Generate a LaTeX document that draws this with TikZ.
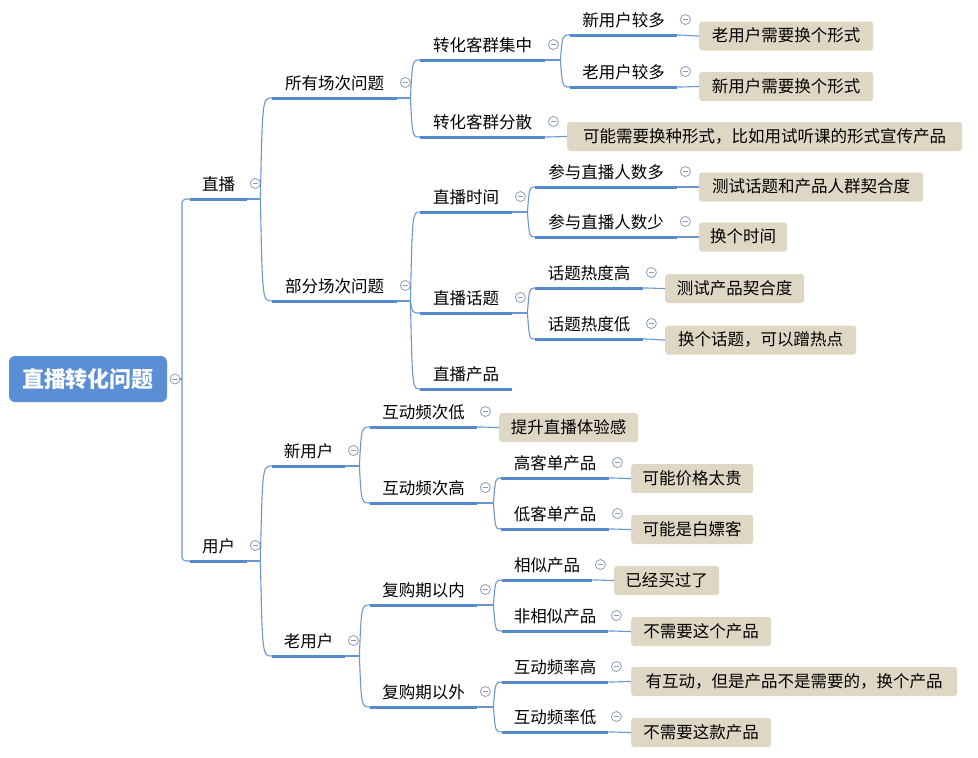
\documentclass[tikz,border=0pt]{standalone}
\usepackage{fontspec}
\newfontfamily\cjk{Noto Sans CJK SC}
\usetikzlibrary{calc}
\definecolor{xroot}{RGB}{90,142,213}
\definecolor{xblue}{RGB}{86,136,204}
\definecolor{lblue}{RGB}{108,150,210}
\definecolor{xtan}{RGB}{221,215,196}
\definecolor{mgray}{RGB}{140,156,186}
\tikzset{
  topic/.style={anchor=south west, inner xsep=0pt, inner ysep=0pt, minimum width=#1,
    text height=14pt, text depth=8pt, font=\cjk\fontsize{16.5}{18}\selectfont},
  uline/.style={draw=xblue, line width=3pt},
  conn/.style={draw=lblue, line width=1.1pt},
  note/.style={anchor=west, fill=xtan, rounded corners=3pt, minimum width=#1,
    minimum height=29pt, inner sep=0pt, text height=13pt, text depth=2pt,
    font=\cjk\fontsize{16.5}{18}\selectfont},
  marker/.style={circle, draw=mgray, line width=0.8pt, minimum size=10pt, inner sep=0pt,
    fill=white, path picture={\draw[mgray, line width=0.8pt]
      ([xshift=-2.6pt]path picture bounding box.center) -- ([xshift=2.6pt]path picture bounding box.center);}},
  rootbox/.style={fill=xroot, rounded corners=6pt, minimum width=158pt, minimum height=46pt,
    inner sep=0pt, text=white, font=\cjk\bfseries\fontsize{22}{24}\selectfont},
}
% topic with marker: name, x1, width, y(underline), text
\newcommand\tp[5]{%
  \node[topic=#3pt] (#1) at (#2,#4) {#5};
  \draw[uline] (#1.south west) -- (#1.south east);
  \node[marker] (m#1) at ($(#1.south east)+(8,-15.5)$) {};
}
\newcommand\tpl[5]{%
  \node[topic=#3pt] (#1) at (#2,#4) {#5};
  \draw[uline] (#1.south west) -- (#1.south east);
}
% junction from a parent
\newcommand\jn[2]{%
  \coordinate (j#1) at ($(#1.south east)+(#2,0)$);
  \draw[conn] (#1.south east) -- (j#1);
}
% branch curve from junction of parent #1 to child #2
\newcommand\br[2]{%
  \draw[conn] (j#1) .. controls ($(j#1 |- #2.south west)+(2,0)$) .. (#2.south west);
}
% note: name, x1, width, ycenter, text, parent
\newcommand\nt[6]{%
  \node[note=#3pt] (#1) at (#2,#4) {#5};
  \draw[conn] (#6.south east) .. controls +(10,0) and +(-8,0) .. (#1.west);
}
\begin{document}
\begin{tikzpicture}[x=1pt,y=-1pt]
\path[fill=white] (0,0) rectangle (978,758);
\useasboundingbox (0,0) rectangle (978,758);

% root
\node[rootbox] (root) at (88,379) {直播转化问题};
\node[marker] (mroot) at (175,379) {};

% level 1
\tp{A}{190}{57}{199}{直播}
\tp{B}{190}{57}{561}{用户}
\coordinate (rj) at (182,379);
\draw[conn] (mroot.east) -- (rj);
\draw[conn, rounded corners=4pt] (A.south west) -| (rj) |- (B.south west);

% under 直播
\tp{A1}{272}{125}{98}{所有场次问题}
\tp{A2}{272}{125}{301}{部分场次问题}
\jn{A}{13}
\br{A}{A1}
\br{A}{A2}

\tp{A11}{420}{125}{60}{转化客群集中}
\tp{A12}{420}{125}{137}{转化客群分散}
\jn{A1}{13}
\br{A1}{A11}
\br{A1}{A12}
\nt{NA12}{567}{395}{136.5}{可能需要换种形式，比如用试听课的形式宣传产品}{A12}

\tp{A111}{570}{107}{35}{新用户较多}
\tp{A112}{570}{107}{87}{老用户较多}
\jn{A11}{15}
\br{A11}{A111}
\br{A11}{A112}
\nt{NA111}{699}{174}{36}{老用户需要换个形式}{A111}
\nt{NA112}{699}{174}{86.5}{新用户需要换个形式}{A112}

\tp{A21}{420}{92}{212}{直播时间}
\tp{A22}{420}{92}{313}{直播话题}
\tpl{A23}{420}{92}{389}{直播产品}
\jn{A2}{13}
\br{A2}{A21}
\br{A2}{A22}
\br{A2}{A23}

\tp{A211}{535}{142}{187}{参与直播人数多}
\tp{A212}{535}{142}{237}{参与直播人数少}
\jn{A21}{15}
\br{A21}{A211}
\br{A21}{A212}
\nt{NA211}{699}{224}{187}{测试话题和产品人群契合度}{A211}
\nt{NA212}{699}{88}{237}{换个时间}{A212}

\tp{A221}{535}{108}{288}{话题热度高}
\tp{A222}{535}{108}{339}{话题热度低}
\jn{A22}{15}
\br{A22}{A221}
\br{A22}{A222}
\nt{NA221}{665}{139}{288.5}{测试产品契合度}{A221}
\nt{NA222}{665}{191}{340}{换个话题，可以蹭热点}{A222}

% under 用户
\tp{B1}{272}{73}{466}{新用户}
\tp{B2}{272}{73}{656}{老用户}
\jn{B}{13}
\br{B}{B1}
\br{B}{B2}

\tp{B11}{370}{107}{427}{互动频次低}
\tp{B12}{370}{107}{503}{互动频次高}
\jn{B1}{14}
\br{B1}{B11}
\br{B1}{B12}
\nt{NB11}{499}{139}{427.5}{提升直播体验感}{B11}

\tp{B121}{501}{108}{478}{高客单产品}
\tp{B122}{501}{108}{529}{低客单产品}
\jn{B12}{16}
\br{B12}{B121}
\br{B12}{B122}
\nt{NB121}{631}{122}{478.5}{可能价格太贵}{B121}
\nt{NB122}{631}{122}{529.5}{可能是白嫖客}{B122}

\tp{B21}{370}{107}{605}{复购期以内}
\tp{B22}{370}{107}{707}{复购期以外}
\jn{B2}{14}
\br{B2}{B21}
\br{B2}{B22}

\tp{B211}{502}{90}{580}{相似产品}
\tp{B212}{502}{106}{631}{非相似产品}
\jn{B21}{16}
\br{B21}{B211}
\br{B21}{B212}
\nt{NB211}{614}{105}{580.5}{已经买过了}{B211}
\nt{NB212}{631}{140}{631.5}{不需要这个产品}{B212}

\tp{B221}{502}{106}{682}{互动频率高}
\tp{B222}{502}{106}{732}{互动频率低}
\jn{B22}{16}
\br{B22}{B221}
\br{B22}{B222}
\nt{NB221}{631}{326}{681.5}{有互动，但是产品不是需要的，换个产品}{B221}
\nt{NB222}{631}{140}{732.5}{不需要这款产品}{B222}
\end{tikzpicture}
\end{document}
